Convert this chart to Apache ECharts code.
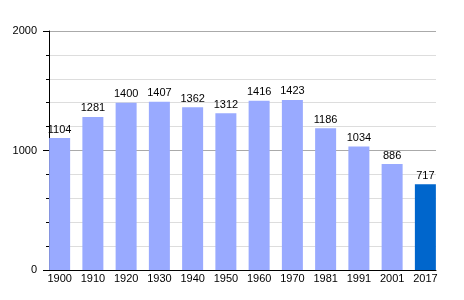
<!DOCTYPE html>
<html><head><meta charset="utf-8">
<script src="https://cdn.jsdelivr.net/npm/echarts@6/dist/echarts.min.js"></script>
<style>html,body{margin:0;padding:0;background:#fff}#c{width:464px;height:300px}</style>
</head><body><div id="c"></div>
<script>
const categories = ['1900','1910','1920','1930','1940','1950','1960','1970','1981','1991','2001','2017'];
const population = [1104,1281,1400,1407,1362,1312,1416,1423,1186,1034,886,717];
const barColors = ['#99aaff','#99aaff','#99aaff','#99aaff','#99aaff','#99aaff','#99aaff','#99aaff','#99aaff','#99aaff','#99aaff','#0066cc'];
const yMin = 0, yMax = 2000, yStep = 1000;

const font = 'Liberation Sans, Arial, sans-serif';
const chart = echarts.init(document.getElementById('c'));
chart.setOption({
  animation: false,
  backgroundColor: '#fff',
  grid: [
    {left: 49, right: 28, top: 31, bottom: 30},
    {left: 43, right: 22, top: 31, bottom: 30}
  ],
  xAxis: [
    {gridIndex: 0, type: 'value', min: 0, max: 1, axisLine: {show: true, lineStyle: {color: '#000', width: 1}},
     axisTick: {show: false}, axisLabel: {show: false}, splitLine: {show: false}},
    {gridIndex: 1, type: 'category', data: categories, axisLine: {show: false}, axisTick: {show: false},
     axisLabel: {margin: 3, fontSize: 11, color: '#000', fontFamily: font}}
  ],
  yAxis: [
    {gridIndex: 0, type: 'value', min: yMin, max: yMax, interval: yStep,
     axisLine: {show: true, lineStyle: {color: '#000', width: 1}},
     axisTick: {show: true, length: 6, lineStyle: {color: '#000'}},
     minorTick: {show: true, splitNumber: 5, length: 3, lineStyle: {color: '#000'}},
     splitLine: {show: true, lineStyle: {color: '#aaaaaa'}},
     minorSplitLine: {show: true, lineStyle: {color: '#dddddd'}},
     axisLabel: {margin: 12, fontSize: 11, color: '#000', fontFamily: font, formatter: v => String(v)}},
    {gridIndex: 1, type: 'value', min: yMin, max: yMax, show: false, splitLine: {show: false}}
  ],
  series: [{
    type: 'bar', xAxisIndex: 1, yAxisIndex: 1, barWidth: 21,
    data: population.map((v, i) => ({value: v, itemStyle: {color: barColors[i]}})),
    label: {show: true, position: 'top', distance: 3, fontSize: 11, color: '#000', fontFamily: font}
  }]
});
</script></body></html>
